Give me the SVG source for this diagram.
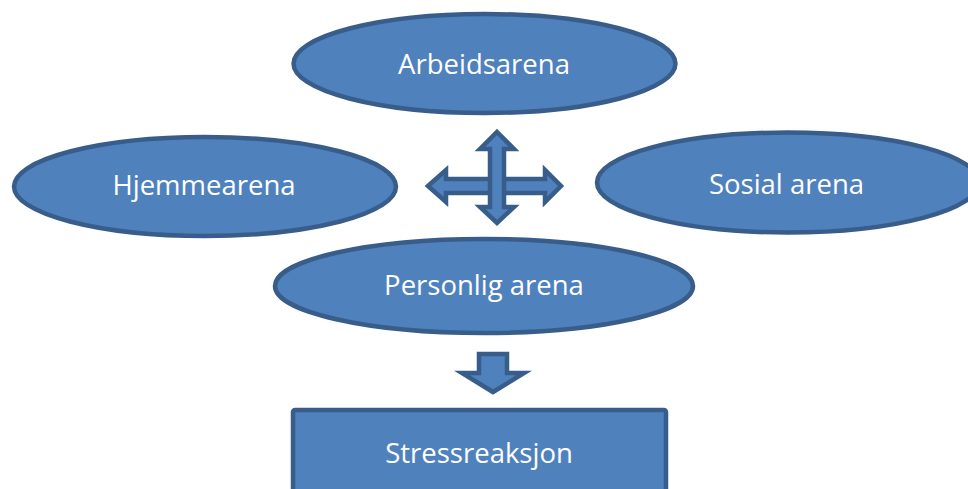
<svg xmlns="http://www.w3.org/2000/svg" width="968" height="489" viewBox="0 0 968 489">
<style>
.shape{fill:#4f81bd;stroke:#385d8a;stroke-width:4.5;}
.arrow{fill:#4f81bd;stroke:#385d8a;stroke-width:4.5;stroke-linejoin:miter;}
.lbl{font-family:"Open Sans","Noto Sans",sans-serif;font-size:27.5px;fill:#ffffff;text-anchor:middle;}
</style>
<rect width="968" height="489" fill="#ffffff"/>
<g id="arbeidsarena">
<ellipse class="shape" cx="484.5" cy="63.5" rx="191" ry="49.5"/>
<text class="lbl" x="484" y="74">Arbeidsarena</text>
</g>
<g id="hjemmearena">
<ellipse class="shape" cx="205" cy="186.5" rx="191" ry="49.5"/>
<text class="lbl" x="204" y="195">Hjemmearena</text>
</g>
<g id="sosial-arena">
<ellipse class="shape" cx="788" cy="182.5" rx="191" ry="50"/>
<text class="lbl" x="786.5" y="194">Sosial arena</text>
</g>
<g id="personlig-arena">
<ellipse class="shape" cx="484" cy="286" rx="209" ry="47"/>
<text class="lbl" x="484" y="295">Personlig arena</text>
</g>
<g id="stressreaksjon">
<rect class="shape" x="293" y="410" width="373" height="100" rx="2"/>
<text class="lbl" x="479" y="463">Stressreaksjon</text>
</g>
<g id="connectors">
<polygon class="arrow" points="428,186 446,170 446,179 545,179 545,170 561,186 545,202 545,193 446,193 446,202"/>
<polygon class="arrow" points="497,132 514,149 504,149 504,207 514,207 497,223 480,207 490,207 490,149 480,149"/>
<polygon class="arrow" points="479,354 507,354 507,373 524,373 493,392 462,373 479,373"/>
</g>
</svg>
